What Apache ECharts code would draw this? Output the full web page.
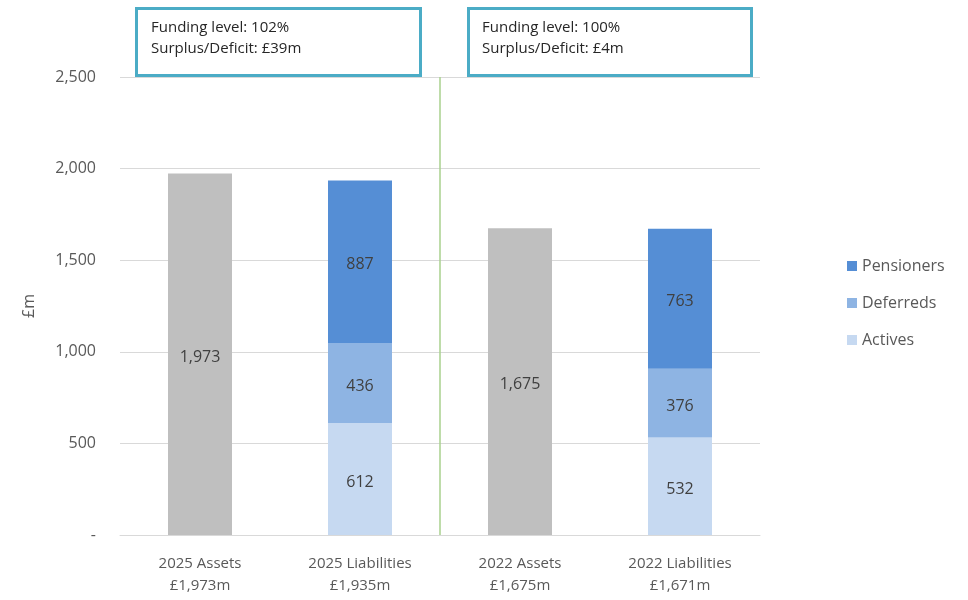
<!DOCTYPE html>
<html><head><meta charset="utf-8">
<script src="https://cdn.jsdelivr.net/npm/echarts@6/dist/echarts.min.js"></script>
<style>html,body{margin:0;padding:0;background:#fff}#c{width:968px;height:600px}</style>
</head><body><div id="c"></div>
<script>
const categories = ['2025 Assets\n£1,973m', '2025 Liabilities\n£1,935m', '2022 Assets\n£1,675m', '2022 Liabilities\n£1,671m'];
const assets = [1973, null, 1675, null];
const actives = [null, 612, null, 532];
const deferreds = [null, 436, null, 376];
const pensioners = [null, 887, null, 763];
const yTicks = [0, 500, 1000, 1500, 2000, 2500];
const dividerX = [2, 2];
const dividerY = [0, 2500];
const boxTexts = ['Funding level: 102%\nSurplus/Deficit: £39m', 'Funding level: 100%\nSurplus/Deficit: £4m'];

const FONT = 'Open Sans';
const chart = echarts.init(document.getElementById('c'), null, {renderer: 'canvas'});
const lbl = {show: true, position: 'inside', color: '#404040', fontSize: 16, fontFamily: FONT, offset: [0, 3],
  formatter: p => p.value == null ? '' : p.value.toLocaleString('en-GB')};
function barSeries(name, data, color) {
  return {name, type: 'bar', stack: 's', data, barWidth: 64, itemStyle: {color}, label: lbl, xAxisIndex: 0, yAxisIndex: 0};
}
chart.setOption({
  animation: false,
  textStyle: {fontFamily: FONT},
  grid: {left: 120, right: 208, top: 77, bottom: 65},
  legend: {
    orient: 'vertical', left: 842, top: 253, itemWidth: 10, itemHeight: 10, itemGap: 21,
    data: ['Pensioners', 'Deferreds', 'Actives'],
    textStyle: {color: '#595959', fontSize: 16, fontFamily: FONT}, icon: 'rect'
  },
  xAxis: [{
    type: 'category', data: categories,
    axisLine: {lineStyle: {color: '#D9D9D9', width: 1}}, axisTick: {show: false},
    axisLabel: {color: '#595959', fontSize: 15, lineHeight: 22, margin: 18, fontFamily: FONT}
  }, {
    type: 'value', min: 0, max: 4, show: false
  }],
  yAxis: {
    type: 'value', min: 0, max: 2500, interval: 500,
    name: '£m', nameLocation: 'middle', nameGap: 83, nameRotate: 90,
    nameTextStyle: {color: '#595959', fontSize: 16, fontFamily: FONT},
    axisLabel: {color: '#595959', fontSize: 16, margin: 24, fontFamily: FONT,
      formatter: v => v === 0 ? '-' : v.toLocaleString('en-GB')},
    splitLine: {lineStyle: {color: '#D9D9D9'}}, axisLine: {show: false}, axisTick: {show: false}
  },
  series: [
    barSeries('Assets', assets, '#BFBFBF'),
    barSeries('Actives', actives, '#C6D9F1'),
    barSeries('Deferreds', deferreds, '#8EB4E3'),
    barSeries('Pensioners', pensioners, '#558ED5'),
    {type: 'line', xAxisIndex: 1, yAxisIndex: 0, data: [[dividerX[0], dividerY[0]], [dividerX[1], dividerY[1]]],
     symbol: 'none', lineStyle: {color: '#A9D18E', width: 1.5}, silent: true, z: 1}
  ],
  graphic: [
    {type: 'rect', left: 135, top: 7, shape: {width: 284, height: 67}, style: {fill: '#fff', stroke: '#4BACC6', lineWidth: 3}},
    {type: 'text', left: 151, top: 17, style: {text: boxTexts[0], fill: '#262626', font: '15px "Open Sans"', lineHeight: 21}},
    {type: 'rect', left: 467, top: 7, shape: {width: 283, height: 67}, style: {fill: '#fff', stroke: '#4BACC6', lineWidth: 3}},
    {type: 'text', left: 482, top: 17, style: {text: boxTexts[1], fill: '#262626', font: '15px "Open Sans"', lineHeight: 21}}
  ]
});
</script></body></html>
